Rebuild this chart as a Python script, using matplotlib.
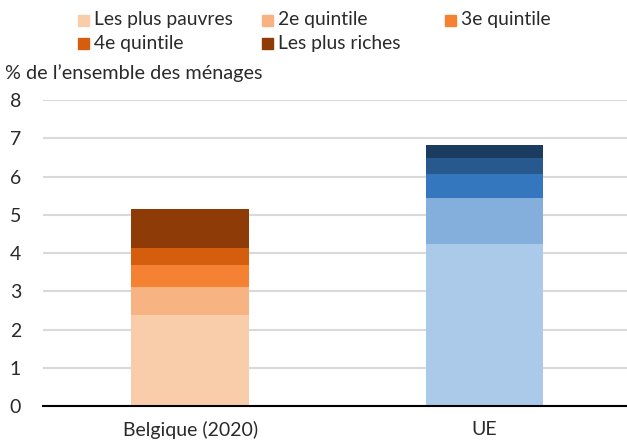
import matplotlib.pyplot as plt
from matplotlib.patches import Rectangle
import numpy as np

plt.rcParams['font.family'] = ['Lato', 'DejaVu Sans']

categories = ['Belgique (2020)', 'UE']
labels = ['Les plus pauvres', '2e quintile', '3e quintile', '4e quintile', 'Les plus riches']
# part de chaque quintile, en % de l'ensemble des ménages
belgique = [2.38, 0.73, 0.58, 0.44, 1.02]
ue = [4.24, 1.20, 0.63, 0.41, 0.34]

col_be = ['#FACDAA', '#F7B382', '#F58233', '#D55E0E', '#8E3B08']
col_ue = ['#ABC9E8', '#84AEDC', '#3477BE', '#27598E', '#1B3C5F']

W, H = 627, 443
fig = plt.figure(figsize=(W / 100, H / 100), dpi=100)
ax = fig.add_axes([0.069, 0.0835, 0.938, 0.6905])

x = np.arange(len(categories))
bas_be = 0
bas_ue = 0
for i in range(5):
    ax.bar(x[0], belgique[i], 0.4, bottom=bas_be, color=col_be[i], zorder=3)
    ax.bar(x[1], ue[i], 0.4, bottom=bas_ue, color=col_ue[i], zorder=3)
    bas_be += belgique[i]
    bas_ue += ue[i]

ax.set_xlim(-0.5, 1.5)
ax.set_ylim(0, 8)
ax.set_yticks(range(0, 9))
ax.set_xticks(x)
ax.set_xticklabels(categories)
ax.tick_params(axis='both', length=0, labelsize=14, colors='#2a2a2a')
ax.tick_params(axis='y', pad=16)
ax.tick_params(axis='x', pad=11)
ax.grid(axis='y', color='#D9D9D9', linewidth=1.5, zorder=0)
for s in ['top', 'right', 'left']:
    ax.spines[s].set_visible(False)
ax.spines['bottom'].set_color('black')
ax.spines['bottom'].set_linewidth(1.5)
ax.spines['bottom'].set_zorder(4)

fig.text(0.008, 0.835, "% de l\u2019ensemble des ménages", fontsize=14.3, color='#2a2a2a', va='center')

# légende en deux lignes, placée à la main (pixels)
pos = [(78, 20), (262, 20), (445, 20), (78, 43.5), (262, 43.5)]
for (px, py), lab, c in zip(pos, labels, col_be):
    fig.patches.append(Rectangle((px / W, 1 - (py + 5.5) / H), 11 / W, 11 / H,
                                 transform=fig.transFigure, color=c))
    fig.text((px + 16) / W, 1 - py / H, lab, fontsize=13.9, color='#2a2a2a', va='center')

fig.savefig('out.png', dpi=100)
